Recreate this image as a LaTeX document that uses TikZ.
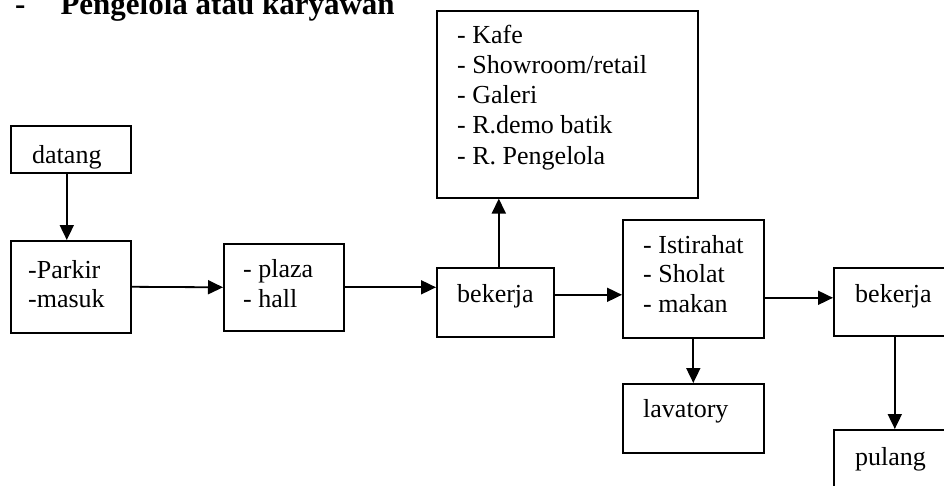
\documentclass[tikz,border=0pt]{standalone}
\usepackage{fontspec}
\setmainfont{Liberation Serif}
\usetikzlibrary{arrows.meta}
\tikzset{
  box/.style={draw, line width=1.6pt, inner sep=0pt, anchor=north west},
  txt/.style={inner sep=0pt, anchor=base west, font=\fontsize{26}{30}\selectfont},
  arr/.style={line width=1.8pt, -{Triangle[width=14pt,length=15pt]}},
  ttl/.style={inner sep=0pt, anchor=base west, font=\bfseries\fontsize{31}{36}\selectfont}
}
\begin{document}
\begin{tikzpicture}[x=1pt, y=-1pt]
\useasboundingbox (0,0) rectangle (944,485);
\clip (0,0) rectangle (944,485);
% title
\node[ttl] (title) at (15,14) {\hbox{-\hspace{35pt}Pengelola atau karyawan}};
% boxes
\node[box, minimum width=120pt, minimum height=47pt] (datang) at (10,125) {};
\node[box, minimum width=120pt, minimum height=92pt] (parkir) at (10,240) {};
\node[box, minimum width=120pt, minimum height=87pt] (plaza) at (223,243) {};
\node[box, minimum width=117pt, minimum height=69pt] (bek1) at (436,267) {};
\node[box, minimum width=261pt, minimum height=187pt] (top) at (436,10) {};
\node[box, minimum width=141pt, minimum height=118pt] (ist) at (622,219) {};
\node[box, minimum width=122pt, minimum height=68pt] (bek2) at (833,267) {};
\node[box, minimum width=141pt, minimum height=69pt] (lav) at (622,383) {};
\node[box, minimum width=122pt, minimum height=71pt] (pulang) at (833,429) {};
% texts
\node[txt] (tdatang) at (32,163) {datang};
\node[txt] (tparkir) at (28,278) {\vtop{\baselineskip=29pt\hbox{-Parkir}\hbox{-masuk}}};
\node[txt] (tplaza) at (243,277) {\vtop{\baselineskip=30pt\hbox{- plaza}\hbox{- hall}}};
\node[txt] (tbek1) at (457,302) {bekerja};
\node[txt] (ttop) at (457,43) {\vtop{\baselineskip=30.3pt\hbox{- Kafe}\hbox{- Showroom/retail}\hbox{- Galeri}\hbox{- R.demo batik}\hbox{- R. Pengelola}}};
\node[txt] (tist) at (643,253) {\vtop{\baselineskip=29.5pt\hbox{- Istirahat}\hbox{- Sholat}\hbox{- makan}}};
\node[txt] (tbek2) at (855,302) {bekerja};
\node[txt] (tlav) at (643,417) {lavatory};
\node[txt] (tpulang) at (855,465) {pulang};
% connectors
\draw[arr] ([xshift=-4pt]datang.south) -- ([xshift=-4pt]parkir.north);
\draw[arr] (parkir.east) -- (plaza.west);
\draw[arr] (plaza.east) -- (plaza.east -| bek1.west);
\coordinate (b1top) at ([xshift=3.5pt]bek1.north);
\draw[arr] (b1top) -- (b1top |- top.south);
\coordinate (istin) at ([yshift=7.5pt]bek1.east);
\draw[arr] (istin) -- (istin -| ist.west);
\coordinate (b2in) at ([yshift=4pt]bek2.west);
\draw[arr] (b2in -| ist.east) -- (b2in);
\draw[arr] (ist.south) -- (lav.north);
\draw[arr] (bek2.south) -- (pulang.north);
\end{tikzpicture}
\end{document}
